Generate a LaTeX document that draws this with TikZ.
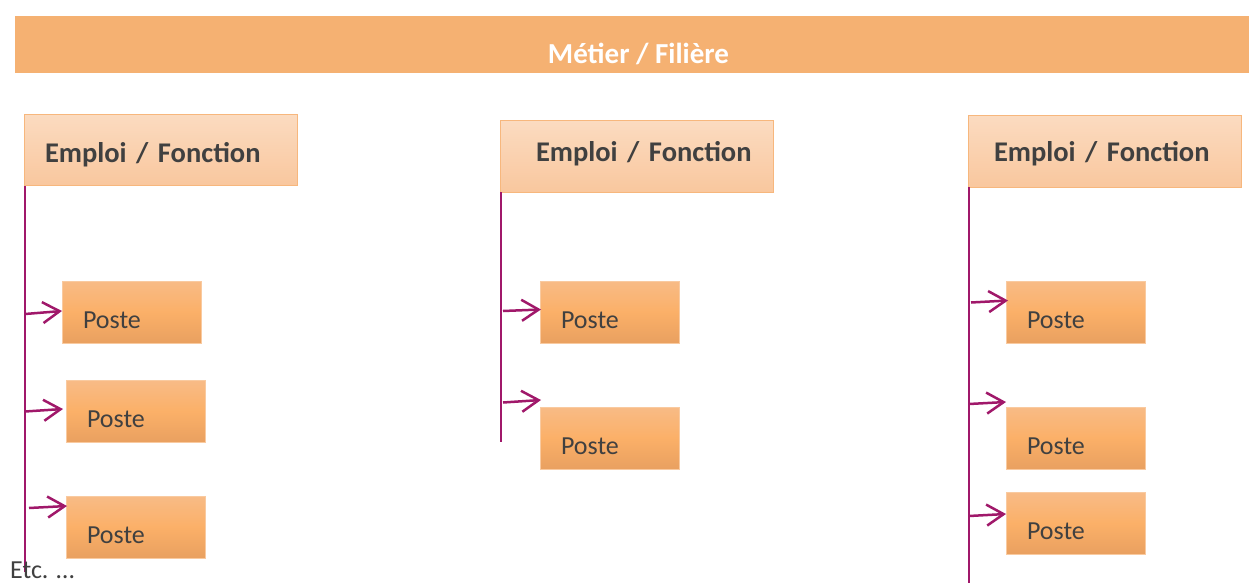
\documentclass[tikz,border=0pt]{standalone}
\usepackage{fontspec}
\setmainfont{Carlito}
\usetikzlibrary{arrows.meta}
\definecolor{banner}{RGB}{245,177,114}
\definecolor{etop}{RGB}{251,219,192}
\definecolor{ebot}{RGB}{249,199,158}
\definecolor{eborder}{RGB}{247,183,125}
\definecolor{ptop}{RGB}{248,187,134}
\definecolor{pmid}{RGB}{251,176,104}
\definecolor{pbot}{RGB}{233,160,96}
\definecolor{pborder}{RGB}{249,202,160}
\definecolor{txt}{RGB}{64,64,64}
\definecolor{link}{RGB}{160,24,106}
\tikzset{
  bannerbox/.style={fill=banner, draw=none, minimum width=1234pt, minimum height=57pt,
    inner sep=0pt, text height=42pt, text depth=3pt, text=white,
    font=\fontsize{29}{34}\selectfont\bfseries},
  emploibox/.style={draw=eborder, line width=1pt, top color=etop, bottom color=ebot,
    minimum width=273pt, minimum height=71pt, inner ysep=0pt, inner xsep=15pt, text width=243pt,
    text depth=4pt, align=left, text=txt, font=\fontsize{28.5}{34}\selectfont\bfseries},
  postebox/.style={draw=pborder, line width=1pt, top color=ptop, bottom color=pbot, middle color=pmid,
    minimum width=139pt, minimum height=62pt, inner ysep=0pt, inner xsep=21pt, text width=97pt,
    text height=36pt, text depth=4pt, align=left, text=txt, font=\fontsize{26}{30}\selectfont},
  stem/.style={draw=link, line width=2.5pt},
  linkarrow/.style={draw=link, line width=2.5pt, -{Straight Barb[length=17pt,width=21pt,line width=2.5pt]}},
}
\begin{document}
\begin{tikzpicture}[x=1pt,y=-1pt]
\useasboundingbox (0,0) rectangle (1249,583);
% banner
\node[bannerbox] (banner) at (632,44.5) {\hspace*{13pt}Métier / Filière};
% emploi boxes
\node[emploibox, text height=28pt] (e1) at (160.5,150) {\hspace*{6pt}Emploi / Fonction};
\node[emploibox, text height=14.4pt] (e2) at (636.5,156.5) {\hspace*{21pt}Emploi / Fonction};
\node[emploibox, text height=24.4pt] (e3) at (1104.5,151.5) {\hspace*{11pt}Emploi / Fonction};
% poste boxes
\node[postebox] (p1) at (131.5,312) {Poste};
\node[postebox] (p2) at (135.5,411.5) {Poste};
\node[postebox] (p3) at (135.5,527) {Poste};
\node[postebox] (p4) at (609.5,312) {Poste};
\node[postebox] (p5) at (609.5,438) {Poste};
\node[postebox] (p6) at (1075.5,312) {Poste};
\node[postebox] (p7) at (1075.5,438) {Poste};
\node[postebox] (p8) at (1075.5,523.5) {Poste};
% stems
\coordinate (s1top) at (25,186);
\coordinate (s1bot) at (25,572);
\coordinate (s2top) at (501,192);
\coordinate (s2bot) at (501,442);
\coordinate (s3top) at (969,187);
\coordinate (s3bot) at (969,590);
\draw[stem] (s1top) -- (s1bot);
\draw[stem] (s2top) -- (s2bot);
\draw[stem] (s3top) -- (s3bot);
% arrow starts and ends
\coordinate (a1s) at (25,314);   \coordinate (a1e) at (62,311);
\coordinate (a2s) at (25,411.5); \coordinate (a2e) at (63,409);
\coordinate (a3s) at (29,508);   \coordinate (a3e) at (67,506);
\coordinate (a4s) at (503,311);  \coordinate (a4e) at (541,309.5);
\coordinate (a5s) at (503,402.5);\coordinate (a5e) at (541,400);
\coordinate (a6s) at (971,302.5);\coordinate (a6e) at (1008,300.5);
\coordinate (a7s) at (969,404);  \coordinate (a7e) at (1006,402);
\coordinate (a8s) at (969,516);  \coordinate (a8e) at (1006,514);
\draw[linkarrow] (a1s) -- (a1e);
\draw[linkarrow] (a2s) -- (a2e);
\draw[linkarrow] (a3s) -- (a3e);
\draw[linkarrow] (a4s) -- (a4e);
\draw[linkarrow] (a5s) -- (a5e);
\draw[linkarrow] (a6s) -- (a6e);
\draw[linkarrow] (a7s) -- (a7e);
\draw[linkarrow] (a8s) -- (a8e);
% etc
\node[anchor=base west, inner sep=0pt, text=txt, font=\fontsize{26}{30}\selectfont] (etc) at (10,578) {Etc. …};
\end{tikzpicture}
\end{document}
